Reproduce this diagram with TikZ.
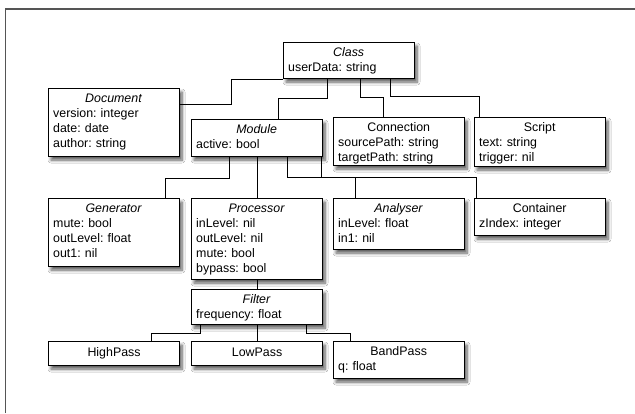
\documentclass[tikz,border=0pt]{standalone}
\usepackage{fontspec}
\setmainfont{Liberation Sans}
\usetikzlibrary{shadows.blur}
\definecolor{framegray}{RGB}{85,85,85}
\frenchspacing
\tikzset{
  clsbox/.style={draw=black, line width=1.1pt, fill=white, inner sep=0pt,
    minimum width=131pt, anchor=north west,
    blur shadow={shadow xshift=2.5pt, shadow yshift=-3.5pt, shadow blur radius=3pt,
      shadow blur steps=8, shadow opacity=65}},
  clstext/.style={inner sep=0pt, text width=121pt, align=left, anchor=north west,
    font=\fontsize{12.4}{15}\selectfont},
  clsone/.style={inner sep=0pt, font=\fontsize{12.4}{15}\selectfont},
  conn/.style={draw=black, line width=0.9pt},
}
\newcommand\umlclass[6]{%
  \node[clsbox, minimum height=#4pt] (#1) at (#2,#3) {};
  \node[clstext] (#1-t) at ([xshift=5pt,yshift=-4pt]#1.north west)
    {\makebox[\linewidth]{\strut #5}\\#6};
}
\begin{document}
\begin{tikzpicture}[x=1pt,y=-1pt]
\fill[white] (0,0) rectangle (635,413);
\useasboundingbox (0,0) rectangle (635,413);
\draw[framegray, line width=1.6pt] (5.5,413) -- (5.5,9) -- (635,9);

\umlclass{cls}{283}{42}{36}{\textit{Class}}{userData: string}
\umlclass{doc}{48}{88}{68}{\textit{Document}}{version: integer\\date: date\\author: string}
\umlclass{mod}{191}{119}{37}{\textit{Module}}{active: bool}
\umlclass{con}{333}{117}{48}{Connection}{sourcePath: string\\targetPath: string}
\umlclass{scr}{474}{117}{49}{Script}{text: string\\trigger: nil}
\umlclass{gen}{48}{198}{68}{\textit{Generator}}{mute: bool\\outLevel: float\\out1: nil}
\umlclass{proc}{191}{198}{81}{\textit{Processor}}{inLevel: nil\\outLevel: nil\\mute: bool\\bypass: bool}
\umlclass{ana}{333}{198}{51}{\textit{Analyser}}{inLevel: float\\in1: nil}
\umlclass{cont}{474}{198}{37}{Container}{zIndex: integer}
\umlclass{fil}{191}{289}{35}{\textit{Filter}}{frequency: float}
\node[clsbox, minimum height=24pt] (hp) at (48,341) {};
\node[clsone] (hp-t) at (hp.center) {\strut HighPass};
\node[clsbox, minimum height=24pt] (lp) at (191,341) {};
\node[clsone] (lp-t) at (lp.center) {\strut LowPass};
\umlclass{bp}{333}{341}{37}{BandPass}{q: float}

\draw[conn] (cls.south west) -| (231,104) -- (doc.east |- 231,104);
\draw[conn] (cls.south -| 327,0) |- (278,98) -- (mod.north -| 278,0);
\draw[conn] (cls.south -| 360,0) |- (383,97) -- (con.north -| 383,0);
\draw[conn] (cls.south -| 390,0) |- (479,96.5) -- (scr.north -| 479,0);
\draw[conn] (mod.south -| 229,0) |- (165,178) -- (gen.north -| 165,0);
\draw[conn] (mod.south -| 257,0) -- (proc.north -| 257,0);
\draw[conn] (mod.south -| 287,0) |- (355,177.5) -- (ana.north -| 355,0);
\draw[conn] (mod.south -| 321,0) |- (476,177.5) -- (cont.north -| 476,0);
\draw[conn] (proc.south -| 257,0) -- (fil.north -| 257,0);
\draw[conn] (fil.south -| 200.5,0) |- (151,333) -- (hp.north -| 151,0);
\draw[conn] (fil.south -| 257,0) -- (lp.north -| 257,0);
\draw[conn] (fil.south -| 306,0) |- (350,333) -- (bp.north -| 350,0);
\end{tikzpicture}
\end{document}
